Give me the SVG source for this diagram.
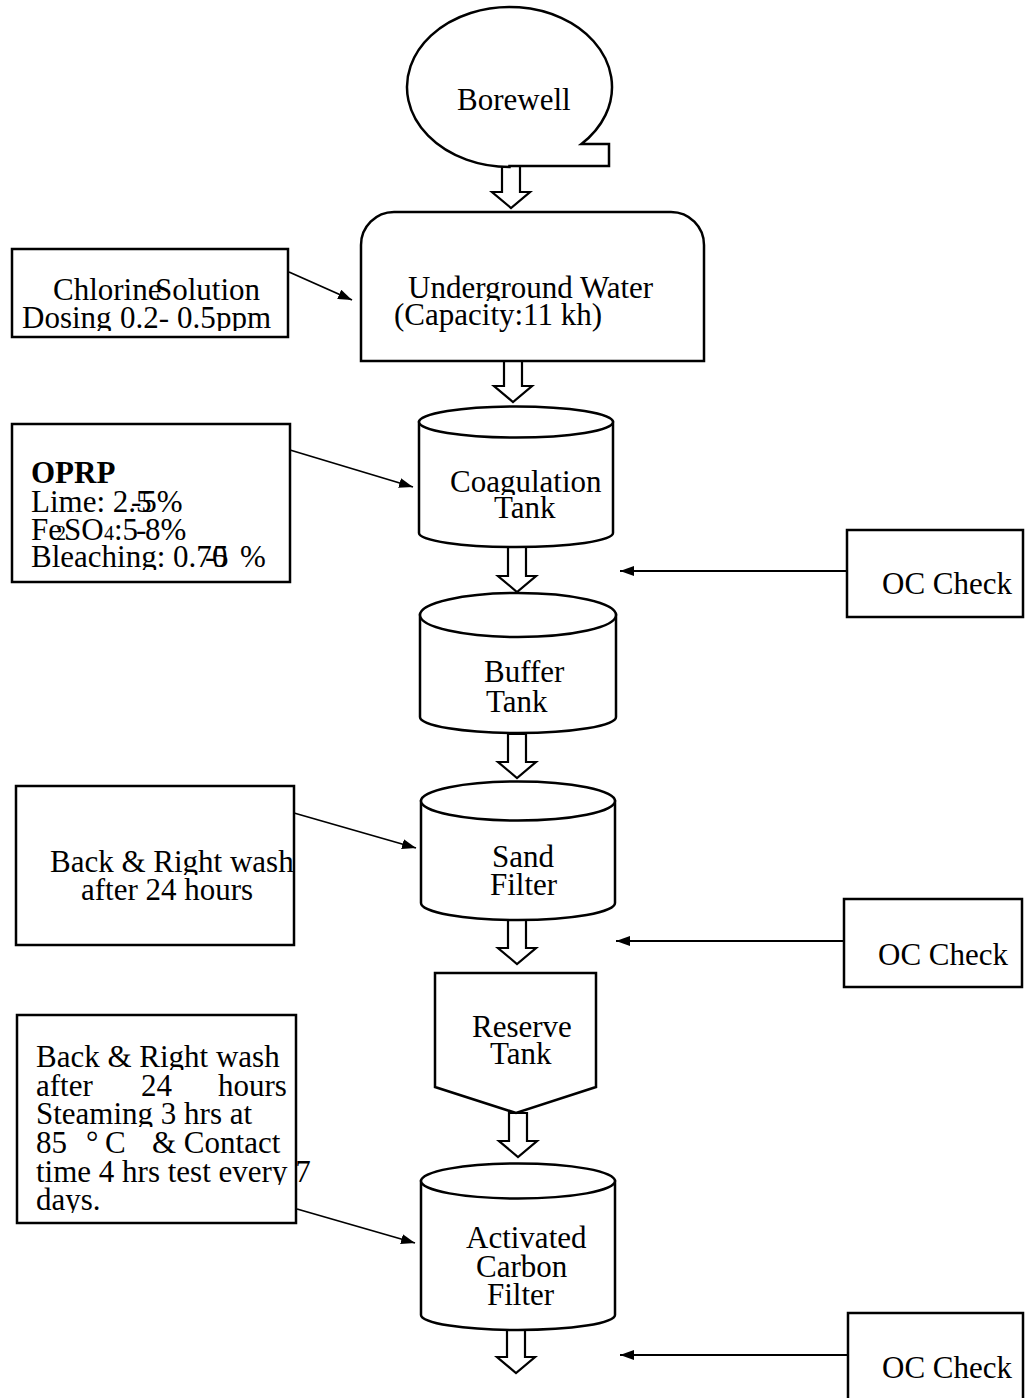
<svg xmlns="http://www.w3.org/2000/svg" width="1025" height="1398" viewBox="0 0 1025 1398">
  <style>
    .t { font-family: "Liberation Serif", "Times New Roman", serif; font-size: 31px; fill: #000; }
    .b { font-weight: bold; }
    .sub { font-size: 20px; }
    .box { fill: #fff; stroke: #000; stroke-width: 2.5; }
    .shape { fill: #fff; stroke: #000; stroke-width: 2.5; }
    .flow { fill: #fff; stroke: #000; stroke-width: 2.2; stroke-linejoin: miter; }
    .link { fill: none; stroke: #000; stroke-width: 1.8; marker-end: url(#head); }
  </style>
  <defs>
    <marker id="head" viewBox="0 0 14 10" refX="14" refY="5" markerWidth="14" markerHeight="10" markerUnits="userSpaceOnUse" orient="auto">
      <path d="M0 0 L14 5 L0 10 Z" fill="#000"/>
    </marker>
    <!-- each line of a fixed-height text frame cuts its descenders -->
    <clipPath id="c-ug"><rect x="0" y="0" width="1025" height="301"/></clipPath>
    <clipPath id="c-dose"><rect x="0" y="0" width="1025" height="331"/></clipPath>
    <clipPath id="c-coag"><rect x="0" y="0" width="1025" height="495"/></clipPath>
    <clipPath id="c-bleach"><rect x="0" y="0" width="1025" height="570"/></clipPath>
    <clipPath id="c-right1"><rect x="0" y="0" width="1025" height="875"/></clipPath>
    <clipPath id="c-right2"><rect x="0" y="0" width="1025" height="1070"/></clipPath>
    <clipPath id="c-steam"><rect x="0" y="0" width="1025" height="1127"/></clipPath>
    <clipPath id="c-every"><rect x="0" y="0" width="1025" height="1185"/></clipPath>
    <clipPath id="c-days"><rect x="0" y="0" width="1025" height="1213"/></clipPath>
  </defs>

  <rect width="1025" height="1398" fill="#fff"/>

  <!-- connectors -->
  <g id="connectors">
    <path class="flow" d="M502 166 V192 H492 L511 208 L530 192 H520 V166 Z"/>
    <path class="flow" d="M504 361 V386 H494 L513 402 L532 386 H522 V361 Z"/>
    <path class="flow" d="M508 547 V576 H498 L517 592 L536 576 H526 V547 Z"/>
    <path class="flow" d="M508 734 V762 H498 L517 778 L536 762 H526 V734 Z"/>
    <path class="flow" d="M508 920 V948 H498 L517 964 L536 948 H526 V920 Z"/>
    <path class="flow" d="M509 1113 V1141 H499 L518 1157 L537 1141 H527 V1113 Z"/>
    <path class="flow" d="M507 1330 V1357 H497 L516 1373 L535 1357 H525 V1330 Z"/>

    <line class="link" x1="289" y1="272" x2="352" y2="300"/>
    <line class="link" x1="290" y1="450" x2="413" y2="487"/>
    <line class="link" x1="294" y1="813" x2="416" y2="848"/>
    <line class="link" x1="297" y1="1209" x2="415" y2="1243"/>
    <line class="link" x1="847" y1="571" x2="620" y2="571"/>
    <line class="link" x1="844" y1="941" x2="616" y2="941"/>
    <line class="link" x1="848" y1="1355" x2="620" y2="1355"/>
  </g>

  <!-- process column -->
  <g id="borewell">
    <path class="shape" d="M509.5 167 A102.5 80 0 1 1 581.42 144 H609 V166 H509.5 Z"/>
    <text class="t" x="457" y="110">Borewell</text>
  </g>

  <g id="underground-water">
    <path class="shape" d="M361 361 V245 A33 33 0 0 1 394 212 H671 A33 33 0 0 1 704 245 V361 Z"/>
    <text class="t" x="408" y="298" clip-path="url(#c-ug)">Underground Water</text>
    <text class="t" x="394" y="325">(Capacity:11 kh)</text>
  </g>

  <g id="coagulation-tank">
    <path class="shape" d="M419 422 V533 A97 14 0 0 0 613 533 V422 Z"/>
    <ellipse class="shape" cx="516" cy="422" rx="97" ry="15.5"/>
    <text class="t" x="450" y="492" clip-path="url(#c-coag)">Coagulation</text>
    <text class="t" x="494" y="518">Tank</text>
  </g>

  <g id="buffer-tank">
    <path class="shape" d="M420 615 V717 A98 16 0 0 0 616 717 V615 Z"/>
    <ellipse class="shape" cx="518" cy="615" rx="98" ry="22"/>
    <text class="t" x="484" y="682">Buffer</text>
    <text class="t" x="486" y="712">Tank</text>
  </g>

  <g id="sand-filter">
    <path class="shape" d="M421 801 V903 A97 17 0 0 0 615 903 V801 Z"/>
    <ellipse class="shape" cx="518" cy="801" rx="97" ry="19.5"/>
    <text class="t" x="492" y="867">Sand</text>
    <text class="t" x="490" y="895">Filter</text>
  </g>

  <g id="reserve-tank">
    <path class="shape" d="M435 973 H596 V1087 L516 1113 L435 1087 Z"/>
    <text class="t" x="472" y="1037">Reserve</text>
    <text class="t" x="490" y="1064">Tank</text>
  </g>

  <g id="activated-carbon-filter">
    <path class="shape" d="M421 1181 V1315 A97 15 0 0 0 615 1315 V1181 Z"/>
    <ellipse class="shape" cx="518" cy="1181" rx="97" ry="17.5"/>
    <text class="t" x="466" y="1248">Activated</text>
    <text class="t" x="476" y="1277">Carbon</text>
    <text class="t" x="487" y="1305">Filter</text>
  </g>

  <!-- inputs on the left -->
  <g id="chlorine-dosing">
    <rect class="box" x="12" y="249" width="276" height="88"/>
    <text class="t" x="53" y="300">Chlorine</text>
    <text class="t" x="155" y="300">Solution</text>
    <text class="t" y="328" clip-path="url(#c-dose)"><tspan x="22">Dosing</tspan><tspan x="120">0.2-</tspan><tspan x="177">0.5</tspan><tspan x="216">ppm</tspan></text>
  </g>

  <g id="oprp">
    <rect class="box" x="12" y="424" width="278" height="158"/>
    <text class="t b" x="31" y="483">OPRP</text>
    <text class="t" y="512"><tspan x="31">Lime: 2.5</tspan><tspan x="131">-5%</tspan></text>
    <text class="t" y="540"><tspan x="31">Fe</tspan><tspan class="sub" x="56">2</tspan><tspan x="64">SO</tspan><tspan class="sub" x="104">4</tspan><tspan x="114">:5</tspan><tspan x="136">-</tspan><tspan x="145">8%</tspan></text>
    <text class="t" y="567" clip-path="url(#c-bleach)"><tspan x="31">Bleaching: 0.7</tspan><tspan x="205">-</tspan><tspan x="213">5</tspan><tspan x="212">0</tspan><tspan x="240">%</tspan></text>
  </g>

  <g id="sand-backwash">
    <rect class="box" x="16" y="786" width="278" height="159"/>
    <text class="t" x="50" y="872" clip-path="url(#c-right1)">Back &amp; Right wash</text>
    <text class="t" x="81" y="900">after 24 hours</text>
  </g>

  <g id="carbon-backwash">
    <rect class="box" x="17" y="1015" width="279" height="208"/>
    <text class="t" x="36" y="1067" clip-path="url(#c-right2)">Back &amp; Right wash</text>
    <text class="t" y="1096"><tspan x="36">after</tspan><tspan x="141">24</tspan><tspan x="218">hours</tspan></text>
    <text class="t" x="36" y="1124" clip-path="url(#c-steam)">Steaming 3 hrs at</text>
    <text class="t" y="1153"><tspan x="36">85</tspan><tspan x="86">°</tspan><tspan x="105">C</tspan><tspan x="152">&amp; Contact</tspan></text>
    <text class="t" x="36" y="1182" clip-path="url(#c-every)">time 4 hrs test every 7</text>
    <text class="t" x="36" y="1210" clip-path="url(#c-days)">days.</text>
  </g>

  <!-- checks on the right -->
  <g id="oc-check-1">
    <rect class="box" x="847" y="530" width="176" height="87"/>
    <text class="t" x="882" y="594">OC Check</text>
  </g>
  <g id="oc-check-2">
    <rect class="box" x="844" y="899" width="178" height="88"/>
    <text class="t" x="878" y="965">OC Check</text>
  </g>
  <g id="oc-check-3">
    <rect class="box" x="848" y="1313" width="175" height="92"/>
    <text class="t" x="882" y="1378">OC Check</text>
  </g>
</svg>
